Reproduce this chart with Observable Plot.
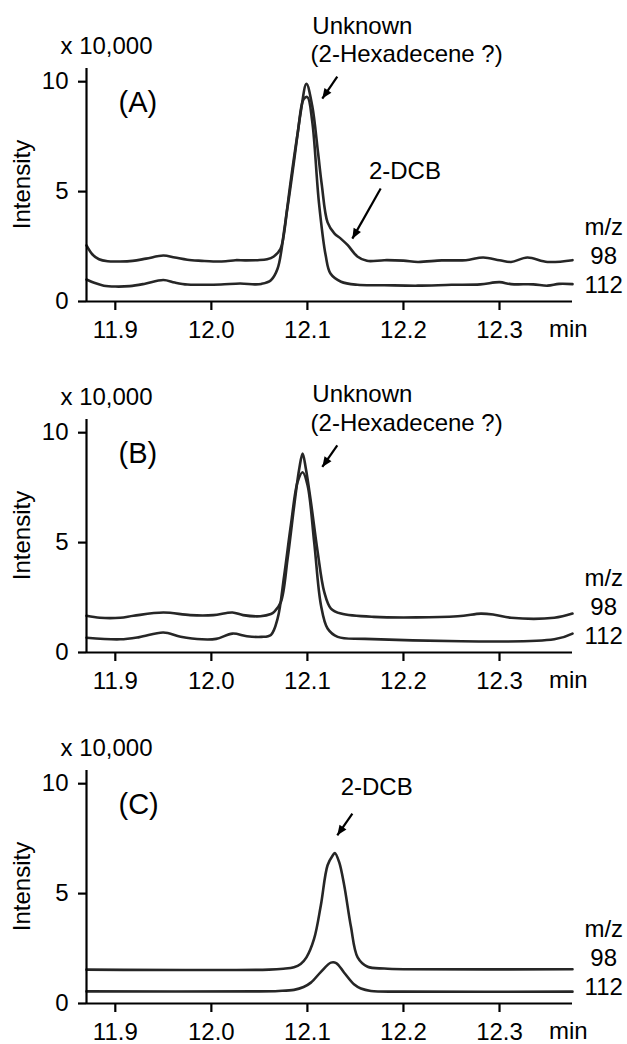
<!DOCTYPE html>
<html>
<head>
<meta charset="utf-8">
<script src="https://cdn.jsdelivr.net/npm/d3@7"></script>
<script src="https://cdn.jsdelivr.net/npm/@observablehq/plot@0.6"></script>
<style>
  body { margin: 0; background: #fff; }
  #chart { margin-top: -2px; }
  #chart svg { display: block; }
</style>
</head>
<body>
<div id="chart"></div>
<script>
// ---- data (retention time in min, intensity in x 10,000) ----
const xTicks = [11.9, 12.0, 12.1, 12.2, 12.3];
const yTicks = [0, 5, 10];
const panelLabels = ["(A)", "(B)", "(C)"];
const seriesNames = ["98", "112"];

const panelA_mz98 = [
  [11.870, 2.55], [11.876, 2.15], [11.883, 1.92], [11.892, 1.83], [11.905, 1.82],
  [11.918, 1.85], [11.932, 1.95], [11.950, 2.09], [11.962, 2.0], [11.975, 1.9],
  [11.990, 1.85], [12.002, 1.82], [12.015, 1.83], [12.025, 1.88], [12.035, 1.87],
  [12.048, 1.88], [12.058, 1.92], [12.065, 2.05], [12.072, 2.4], [12.079, 4.2],
  [12.086, 6.36], [12.093, 8.6], [12.099, 9.9], [12.105, 8.9], [12.111, 6.8],
  [12.115, 5.3], [12.121, 3.6], [12.128, 3.1], [12.135, 2.85], [12.142, 2.56],
  [12.152, 2.05], [12.162, 1.85], [12.180, 1.88], [12.200, 1.86], [12.215, 1.8],
  [12.240, 1.87], [12.265, 1.88], [12.283, 2.0], [12.300, 1.88], [12.312, 1.8],
  [12.329, 2.0], [12.350, 1.8], [12.376, 1.88]
];
const panelA_mz112 = [
  [11.870, 1.0], [11.878, 0.85], [11.888, 0.72], [11.900, 0.68], [11.915, 0.7],
  [11.930, 0.8], [11.950, 0.98], [11.962, 0.86], [11.975, 0.77], [11.990, 0.76],
  [12.010, 0.77], [12.030, 0.82], [12.045, 0.78], [12.052, 0.8], [12.062, 0.97],
  [12.069, 1.5], [12.076, 3.3], [12.083, 5.6], [12.090, 7.7], [12.096, 9.2],
  [12.100, 9.3], [12.105, 8.2], [12.112, 4.5], [12.119, 2.1], [12.124, 1.27],
  [12.135, 0.9], [12.152, 0.76], [12.180, 0.74], [12.215, 0.72], [12.250, 0.76],
  [12.280, 0.78], [12.300, 0.88], [12.312, 0.79], [12.335, 0.78], [12.350, 0.72],
  [12.362, 0.8], [12.376, 0.79]
];
const panelB_mz98 = [
  [11.870, 1.67], [11.884, 1.58], [11.905, 1.58], [11.919, 1.67], [11.950, 1.82],
  [11.978, 1.7], [12.002, 1.7], [12.022, 1.82], [12.033, 1.7], [12.051, 1.65],
  [12.062, 1.75], [12.0654, 1.85], [12.0724, 2.3], [12.0794, 4.27], [12.0863, 6.7],
  [12.0915, 8.36], [12.095, 9.05], [12.0984, 8.36], [12.1036, 6.86], [12.1106, 4.6],
  [12.1175, 2.76], [12.1245, 2.0], [12.1349, 1.77], [12.169, 1.62], [12.2565, 1.65],
  [12.2807, 1.77], [12.2946, 1.72], [12.312, 1.58], [12.357, 1.58], [12.376, 1.77]
];
const panelB_mz112 = [
  [11.870, 0.67], [11.905, 0.6], [11.925, 0.7], [11.950, 0.91], [11.968, 0.72],
  [11.990, 0.6], [12.005, 0.62], [12.022, 0.86], [12.037, 0.74], [12.052, 0.71],
  [12.062, 0.8], [12.069, 1.55], [12.0758, 3.5], [12.0828, 5.8], [12.0898, 7.76],
  [12.095, 8.2], [12.1002, 7.6], [12.1071, 5.0], [12.1141, 2.15], [12.121, 1.09],
  [12.1315, 0.71], [12.160, 0.62], [12.357, 0.6], [12.376, 0.86]
];
const panelC_mz98 = [
  [11.870, 1.54], [12.060, 1.54], [12.075, 1.58], [12.086, 1.65], [12.093, 1.8],
  [12.099, 2.1], [12.107, 2.95], [12.114, 4.47], [12.121, 6.29], [12.1265, 6.74],
  [12.1286, 6.85], [12.133, 6.44], [12.1383, 5.38], [12.1453, 3.5], [12.1523, 2.1],
  [12.1627, 1.67], [12.180, 1.59], [12.200, 1.56], [12.376, 1.56]
];
const panelC_mz112 = [
  [11.870, 0.55], [12.050, 0.55], [12.070, 0.57], [12.086, 0.62], [12.096, 0.75],
  [12.1036, 0.95], [12.1141, 1.44], [12.1245, 1.86], [12.130, 1.84], [12.1383, 1.4],
  [12.1488, 0.86], [12.1557, 0.68], [12.1661, 0.57], [12.200, 0.54], [12.376, 0.54]
];

// annotation texts
const notesA = ["Unknown", "(2-Hexadecene ?)", "2-DCB"];
const notesB = ["Unknown", "(2-Hexadecene ?)"];
const notesC = ["2-DCB"];

// ---- layout ----
const X_DOMAIN = [11.87, 12.376];
const Y_DOMAIN = [0, 10.6];
const FONT = "'Liberation Sans', Arial, Helvetica, sans-serif";
const W = 627, ML = 86, MR = 55, MT = 70, PLOT_H = 233;
const KX = (W - ML - MR) / (X_DOMAIN[1] - X_DOMAIN[0]);
const KY = PLOT_H / (Y_DOMAIN[1] - Y_DOMAIN[0]);

// filled arrowhead, tip at origin pointing down (+y)
const arrowHead = {
  draw(ctx) {
    ctx.moveTo(0, 0);
    ctx.lineTo(-4.2, -10);
    ctx.lineTo(4.2, -10);
    ctx.closePath();
  }
};

function panel(s98, s112, label, notes, arrows, height) {
  const lines = [
    ...s98.map(([t, v]) => ({t, v, mz: seriesNames[0]})),
    ...s112.map(([t, v]) => ({t, v, mz: seriesNames[1]}))
  ];
  const heads = arrows.map(a => ({
    x: a.x2, y: a.y2,
    angle: Math.atan2(-(a.x2 - a.x1) * KX, -(a.y2 - a.y1) * KY) * 180 / Math.PI
  }));
  return Plot.plot({
    width: W,
    height,
    marginLeft: ML,
    marginRight: MR,
    marginTop: MT,
    marginBottom: height - MT - PLOT_H,
    x: {domain: X_DOMAIN},
    y: {domain: Y_DOMAIN},
    style: {fontFamily: FONT, fontSize: "24px", color: "#000", background: "#fff", overflow: "visible"},
    marks: [
      Plot.line(lines, {x: "t", y: "v", z: "mz", stroke: "#262626", strokeWidth: 2.6, curve: "catmull-rom"}),
      Plot.ruleX([X_DOMAIN[0]], {stroke: "#000", strokeWidth: 2.2}),
      Plot.ruleY([0], {stroke: "#000", strokeWidth: 2.2}),
      Plot.axisX({ticks: xTicks, tickFormat: d3.format(".1f"), tickSize: 9, tickPadding: 10, strokeWidth: 2.2, fontSize: 24, label: null}),
      Plot.axisY({ticks: yTicks, tickSize: 8, tickPadding: 10, strokeWidth: 2.2, fontSize: 24, label: null}),
      Plot.text(["x 10,000"], {x: 11.8429, y: 11.61, textAnchor: "start", fontSize: 24}),
      Plot.text(["Intensity"], {x: 11.8033, y: 5.32, rotate: -90, fontSize: 24}),
      Plot.text([label], {x: 11.9033, y: 9.05, textAnchor: "start", fontSize: 29}),
      Plot.text(["min"], {x: 12.3716, y: -0.86, lineAnchor: "top", fontSize: 24}),
      Plot.text(["m/z", seriesNames[0], seriesNames[1]], {x: 12.4085, y: [3.37, 2.05, 0.72], fontSize: 24}),
      Plot.text(notes, {x: (d, i) => notes.pos[i][0], y: (d, i) => notes.pos[i][1], textAnchor: "start", fontSize: 24}),
      Plot.link(arrows, {x1: "x1", y1: "y1", x2: "x2", y2: "y2", stroke: "#000", strokeWidth: 2.2}),
      Plot.dot(heads, {x: "x", y: "y", rotate: "angle", symbol: arrowHead, r: 5, fill: "#000", stroke: "none"})
    ]
  });
}

notesA.pos = [[12.1051, 12.52], [12.1033, 11.25], [12.164, 5.94]];
notesB.pos = [[12.1051, 11.75], [12.1033, 10.41]];
notesC.pos = [[12.1346, 9.82]];

const arrowsA = [
  {x1: 12.1311, y1: 10.23, x2: 12.1155, y2: 9.23},
  {x1: 12.1763, y1: 5.14, x2: 12.1468, y2: 2.86}
];
const arrowsB = [{x1: 12.1311, y1: 9.42, x2: 12.1155, y2: 8.44}];
const arrowsC = [{x1: 12.1468, y1: 8.64, x2: 12.1311, y2: 7.65}];

const root = document.getElementById("chart");
root.append(panel(panelA_mz98, panelA_mz112, panelLabels[0], notesA, arrowsA, 351));
root.append(panel(panelB_mz98, panelB_mz112, panelLabels[1], notesB, arrowsB, 351));
root.append(panel(panelC_mz98, panelC_mz112, panelLabels[2], notesC, arrowsC, 344));
</script>
</body>
</html>
